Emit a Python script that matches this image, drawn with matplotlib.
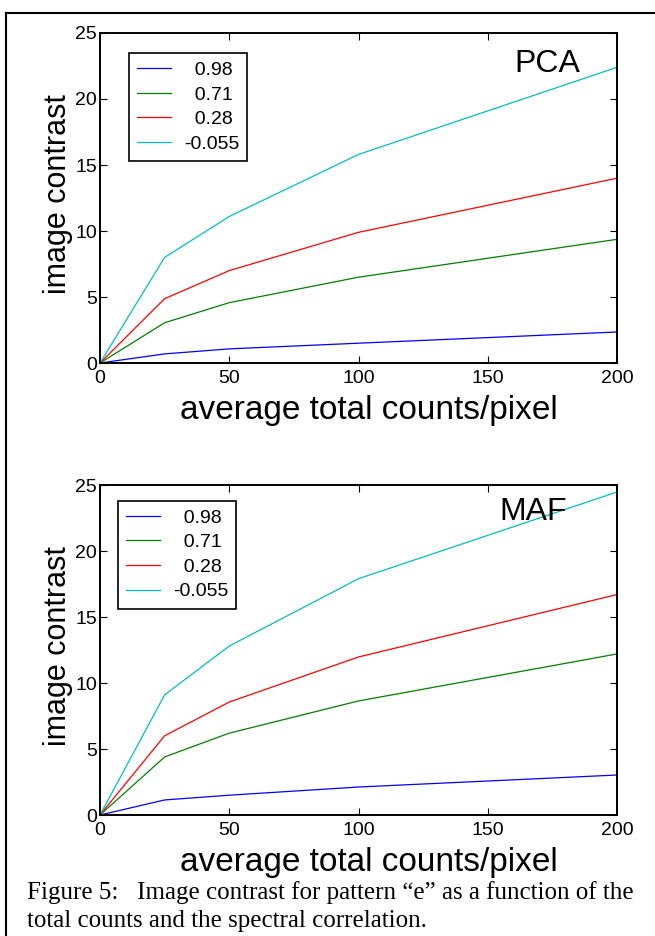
import matplotlib
matplotlib.use('Agg')
import matplotlib.pyplot as plt
from matplotlib.lines import Line2D

# Дані
counts = [0, 25, 50, 100, 200]
labels = ['  0.98', '  0.71', '  0.28', '-0.055']
colors = ['#0000ff', '#008000', '#ff0000', '#00bfbf']

pca_values = [
    [0, 0.69, 1.07, 1.5, 2.35],
    [0, 3.05, 4.57, 6.5, 9.37],
    [0, 4.87, 7.0, 9.9, 14.0],
    [0, 8.0, 11.1, 15.8, 22.4],
]
maf_values = [
    [0, 1.14, 1.5, 2.12, 3.03],
    [0, 4.4, 6.2, 8.64, 12.2],
    [0, 6.0, 8.56, 11.97, 16.7],
    [0, 9.1, 12.8, 17.9, 24.47],
]

x_ticks = [0, 50, 100, 150, 200]
y_ticks = [0, 5, 10, 15, 20, 25]

W, H = 655, 936
plt.rcParams['font.family'] = ['Liberation Sans', 'DejaVu Sans']

fig = plt.figure(figsize=(W / 100, H / 100), dpi=100)

# Рамка навколо рисунка
fig.add_artist(Line2D([6 / W, 6 / W], [0, 1 - 13 / H], color='black', lw=1.5,
                      transform=fig.transFigure))
fig.add_artist(Line2D([6 / W, 1], [1 - 13 / H, 1 - 13 / H], color='black', lw=1.5,
                      transform=fig.transFigure))


def draw_panel(top_px, values, name, name_pos, leg_pos):
    left, right, bottom = 100, 617, top_px + 330
    ax = fig.add_axes([left / W, 1 - bottom / H, (right - left) / W, 330 / H])
    for vals, c, lab in zip(values, colors, labels):
        ax.plot(counts, vals, color=c, lw=0.9, label=lab)
    ax.set_xlim(0, 200)
    ax.set_ylim(0, 25)
    ax.set_xticks(x_ticks)
    ax.set_yticks(y_ticks)
    ax.tick_params(direction='in', top=True, right=True, labelsize=14,
                   length=5, width=0.8)
    ax.tick_params(axis='x', pad=5)
    ax.tick_params(axis='y', pad=2)
    for s in ax.spines.values():
        s.set_linewidth(1.4)
    ax.text(name_pos[0], name_pos[1], name, transform=ax.transAxes,
            fontsize=23, ha='center', va='center')
    leg = ax.legend(loc='upper left', bbox_to_anchor=leg_pos, borderaxespad=0,
                    fontsize=14, fancybox=False, framealpha=1, edgecolor='black',
                    handlelength=1.75, handletextpad=0.65, labelspacing=0.36,
                    borderpad=0.42)
    leg.get_frame().set_linewidth(1.2)
    fig.text(58 / W, 1 - (top_px + 161) / H, 'image contrast', rotation=90,
             fontsize=22, ha='center', va='center')
    fig.text(369 / W, 1 - (bottom + 47) / H, 'average total counts/pixel',
             fontsize=24, ha='center', va='center')
    return ax


draw_panel(33, pca_values, 'PCA', (0.865, 0.906), (0.056, 0.939))
draw_panel(485, maf_values, 'MAF', (0.838, 0.918), (0.035, 0.952))

# Підпис рисунка
cap_font = ['Liberation Serif', 'DejaVu Serif']
fig.text(27 / W, 1 - 893 / H,
         'Figure 5:   Image contrast for pattern \u201ce\u201d as a function of the',
         fontsize=18, family=cap_font, ha='left', va='center')
fig.text(27 / W, 1 - 921 / H, 'total counts and the spectral correlation.',
         fontsize=18, family=cap_font, ha='left', va='center')

fig.savefig('out.png', dpi=100)
